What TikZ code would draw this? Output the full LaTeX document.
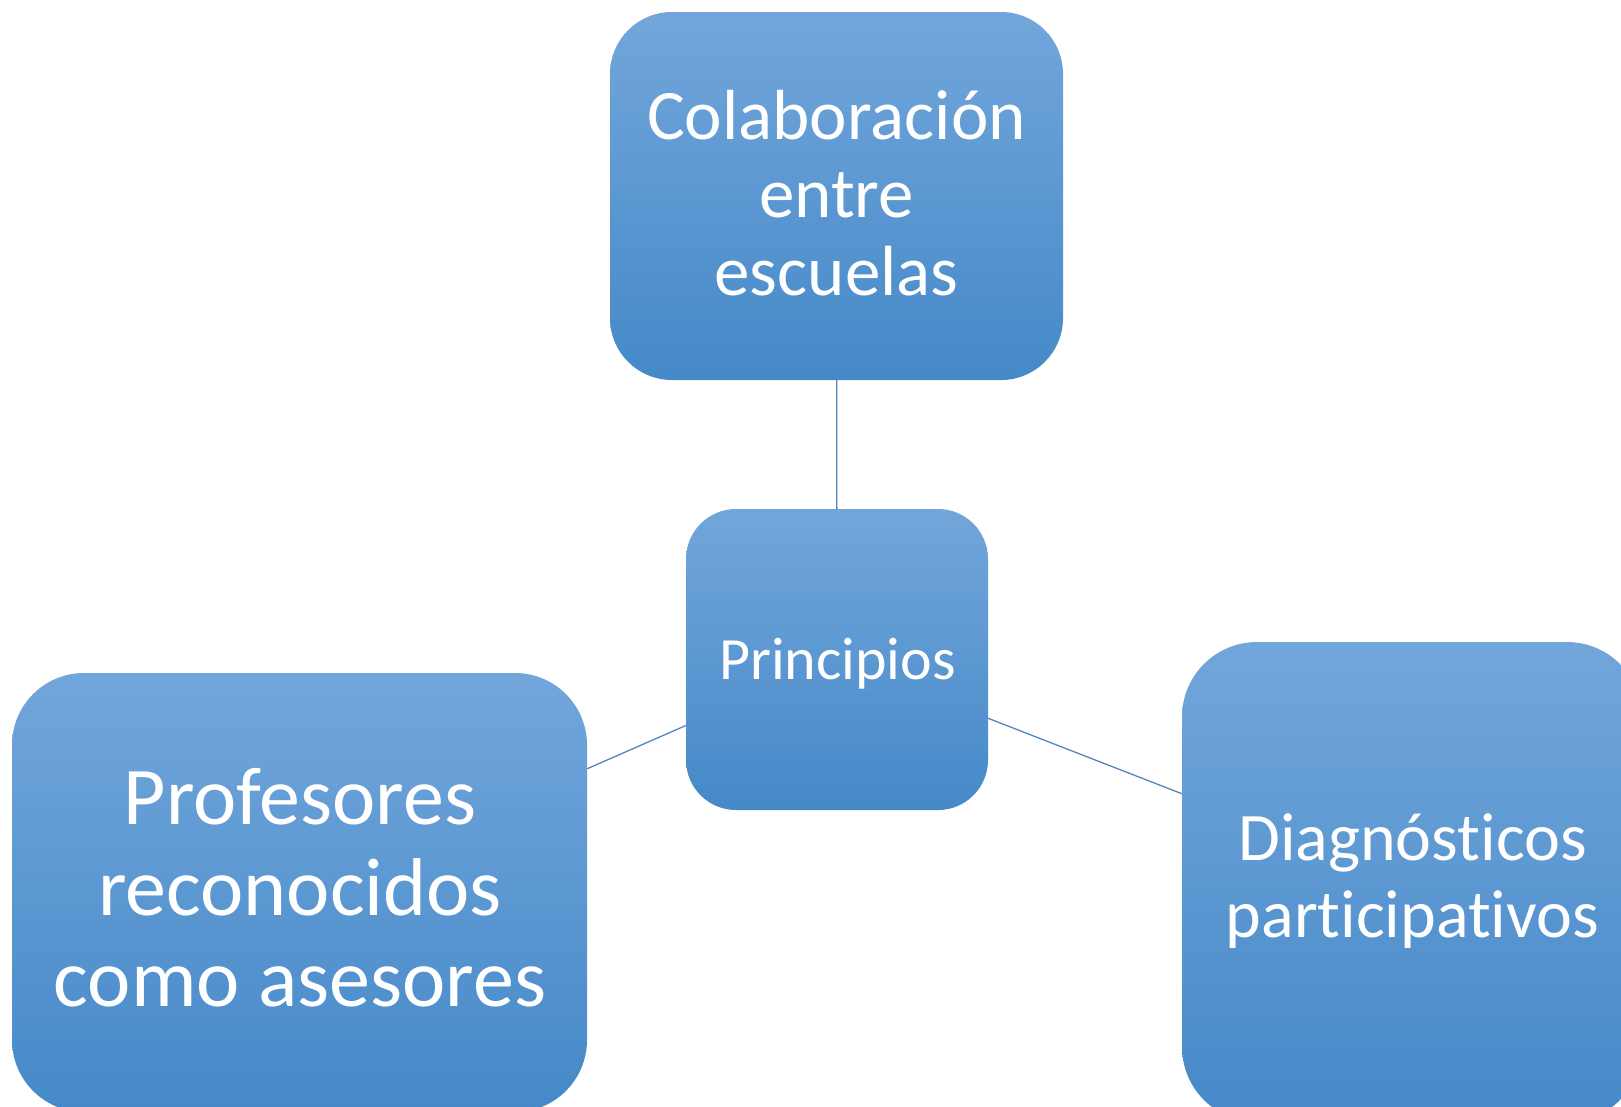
\documentclass[tikz,border=0pt]{standalone}
\usepackage{fontspec}
\setmainfont{Carlito}[Ligatures=NoCommon]
\usetikzlibrary{calc}
\definecolor{boxtop}{HTML}{72A6DB}
\definecolor{boxmid}{HTML}{599BDC}
\definecolor{boxbot}{HTML}{4589C8}
\definecolor{linkc}{HTML}{5486BE}
\tikzset{
  pbox/.style={rectangle, draw=none, inner sep=0pt, top color=boxtop, middle color=boxmid, bottom color=boxbot},
  ptext/.style={text=white, align=center, inner sep=0pt, anchor=center},
  link/.style={draw=linkc, line width=1.3pt}
}
\begin{document}
\begin{tikzpicture}[x=1pt, y=-1pt]
\clip (0,0) rectangle (1621,1106);
\fill[white] (0,0) rectangle (1621,1106);
% boxes
\node[pbox, rounded corners=62pt, minimum width=453pt, minimum height=368pt] (top) at (836.5,196) {};
\node[pbox, rounded corners=50pt, minimum width=302pt, minimum height=301pt] (mid) at (837,659.5) {};
\node[pbox, rounded corners=72pt, minimum width=575pt, minimum height=439pt] (left) at (299.5,892.5) {};
\node[pbox, rounded corners=75pt, minimum width=460pt, minimum height=480pt] (right) at (1412,882) {};
% connectors
\draw[link] (mid) -- (top);
\draw[link] (mid) -- (left);
\draw[link] (mid) -- (right);
% texts
\node[ptext, font=\fontsize{71}{78}\selectfont] (ttop) at (836.5,193) {Colaboración\\entre\\escuelas};
\node[ptext, font=\fontsize{60}{66}\selectfont] (tmid) at (837.5,664) {Principios};
\node[ptext, font=\fontsize{82}{91}\selectfont] (tleft) at (300,887.5) {Profesores\\reconocidos\\como asesores};
\node[ptext, font=\fontsize{68}{77}\selectfont] (tright) at (1412.5,881) {Diagnósticos\\participativos};
\end{tikzpicture}
\end{document}
